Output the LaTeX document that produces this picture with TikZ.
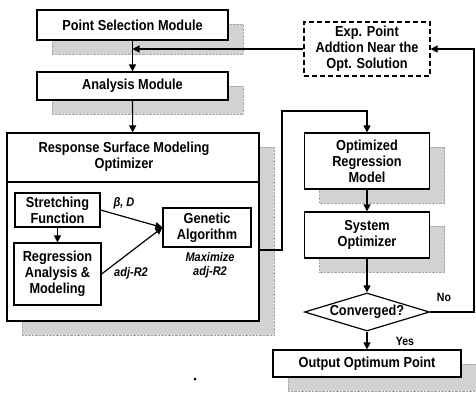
\documentclass[tikz,border=0pt]{standalone}
\usepackage{fontspec}
\setmainfont{Liberation Sans}[FakeStretch=0.88]
\usetikzlibrary{positioning,shapes.geometric,shadows,arrows.meta}

\begin{document}
\begin{tikzpicture}[x=1pt,y=-1pt,node distance=2cm,on grid,line width=1.2pt,
    >={Triangle[length=7pt,width=7pt]},
    every node/.style={font=\fontsize{14.5}{16}\selectfont\bfseries,align=center},
    box/.style={draw,fill=white,inner sep=0pt},
    sbox/.style={box,drop shadow={shadow xshift=15pt,shadow yshift=-14pt,
      fill=gray!35,draw=gray!70,line width=0.4pt,densely dotted,opacity=1}},
    dbox/.style={box,dash pattern=on 5pt off 3pt},
    decision/.style={diamond,draw,fill=white,aspect=3.3,inner sep=0pt,
      minimum width=125pt,minimum height=38pt},
    lab/.style={font=\fontsize{12.5}{14}\selectfont\bfseries\itshape}]
  \useasboundingbox (0,0) rectangle (476,397);

  % left column
  \node[sbox,minimum width=191pt,minimum height=30pt] (psm) at (132.5,25) {Point Selection Module};
  \node[sbox,minimum width=191pt,minimum height=28pt] (anal) [below=61pt of psm] {Analysis Module};
  \node[sbox,minimum width=252pt,minimum height=188pt] (rsm) at (133,227) {};
  \node (rsmt) at (124,157) {Response Surface Modeling\\Optimizer};
  \draw (rsm.west |- 0,182) -- (rsm.east |- 0,182);

  \node[box,minimum width=85pt,minimum height=34pt] (sf) at (57.5,210) {Stretching\\Function};
  \node[box,minimum width=87pt,minimum height=62pt] (ra) [below=64pt of sf] {Regression\\Analysis \&\\Modeling};
  \node[box,minimum width=88pt,minimum height=39pt] (ga) at (207,227.5) {Genetic\\Algorithm};
  \node[lab] (bd) at (124,203) {β, D};
  \node[lab] (adj) at (131,273) {adj-R2};
  \node[lab] (max) at (210,265) {Maximize\\adj-R2};

  % right column
  \node[dbox,minimum width=126pt,minimum height=54pt] (exp) at (367,49) {Exp. Point\\Addtion Near the\\Opt. Solution};
  \node[sbox,minimum width=125pt,minimum height=56pt] (orm) [below=112pt of exp] {Optimized\\Regression\\Model};
  \node[sbox,minimum width=125pt,minimum height=46pt] (so) [below=74pt of orm] {System\\Optimizer};
  \node[decision] (conv) [below=77pt of so] {Converged?};
  \node[sbox,minimum width=188pt,minimum height=27pt] (out) [below=51.5pt of conv] {Output Optimum Point};
  \node[font=\fontsize{12}{13}\selectfont\bfseries] (no) at (444,297) {No};
  \node[font=\fontsize{12}{13}\selectfont\bfseries] (yes) at (405,341) {Yes};

  \coordinate (merge) at (psm.south |- exp.west);
  \coordinate (rsmout) at (rsm.east |- 0,250);
  \coordinate (up) at (282,111);
  \coordinate (fb) at (474,0);

  \draw[->] (psm) -- (anal);
  \draw[->] (exp.west) -- (merge);
  \draw[->] (anal) -- (rsm);
  \draw[->] (sf) -- (ra);
  \draw[->] (sf.east) -- (ga.west);
  \draw[->] (ra.east) -- (ga.west);
  \draw[->] (rsmout) -- (up |- rsmout) -- (up) -| (orm.north);
  \draw[->] (orm) -- (so);
  \draw[->] (so) -- (conv);
  \draw[->] (conv) -- (out);
  \draw[->] (conv.east) -- (conv.east -| fb) |- (exp.east);

  \fill (195,379) circle (1.5pt);
\end{tikzpicture}
\end{document}
